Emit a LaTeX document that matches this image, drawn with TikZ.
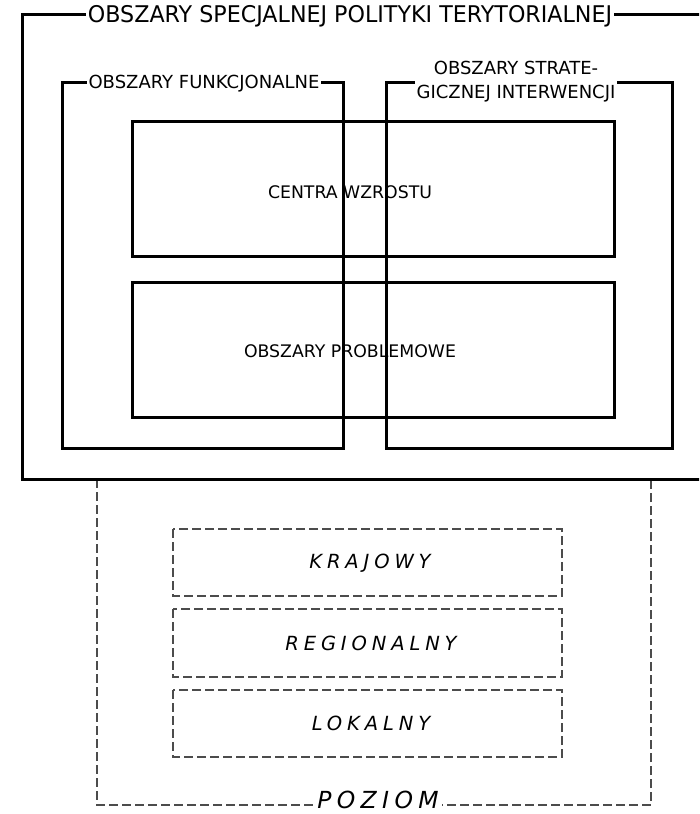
\documentclass[tikz,border=0pt]{standalone}
\usepackage{fontspec}
\setmainfont{DejaVu Sans}
\newfontfamily\itfont{DejaVu Sans Oblique}[LetterSpace=25]
\newfontfamily\pozfont{DejaVu Sans Oblique}[LetterSpace=23]
\begin{document}
\begin{tikzpicture}[x=1pt,y=-1pt,
  solidbox/.style={draw=black,line width=3pt},
  dbox/.style={draw=black!70,line width=1.8pt,dash pattern=on 9pt off 4pt},
  lbl/.style={fill=white,inner sep=1.5pt,align=center,font=\fontsize{18}{24}\selectfont},
  ctext/.style={font=\fontsize{17.3}{20}\selectfont},
  itlbl/.style={font=\itfont\fontsize{19.5}{22}\selectfont}]
\useasboundingbox (0,0) rectangle (699,814);
\clip (0,0) rectangle (699,814);
% dashed level frame
\draw[dbox] (97,479) -- (97,805) -- (651,805) -- (651,479);
\node[fill=white,inner xsep=3pt,inner ysep=0pt,font=\pozfont\fontsize{23.5}{25}\selectfont] (poz) at (378,800) {POZIOM};
\draw[dbox] (173,529) rectangle (562,596);
\draw[dbox] (173,609) rectangle (562,677);
\draw[dbox] (173,690) rectangle (562,757);
\node[itlbl] (kr) at (370,563) {KRAJOWY};
\node[itlbl] (re) at (371,643) {REGIONALNY};
\node[itlbl] (lo) at (371,723) {LOKALNY};
% outer solid frame
\draw[solidbox] (22,14) rectangle (720,479);
\node[lbl,font=\addfontfeatures{FakeStretch=0.965}\fontsize{23}{26}\selectfont,inner sep=2pt] (t) at (350,16) {OBSZARY SPECJALNEJ POLITYKI TERYTORIALNEJ};
% inner boxes
\draw[solidbox] (132,121) rectangle (614,256);
\draw[solidbox] (132,282) rectangle (614,417);
\node[ctext] (cw) at (350,192) {CENTRA WZROSTU};
\node[ctext] (op) at (350,351) {OBSZARY PROBLEMOWE};
% functional / strategic boxes
\draw[solidbox] (62,82) rectangle (343,448);
\draw[solidbox] (386,82) rectangle (672,448);
\node[lbl] (f) at (204,84) {OBSZARY FUNKCJONALNE};
\node[lbl,inner sep=2pt] (s) at (516,82) {OBSZARY STRATE-\\GICZNEJ INTERWENCJI};
\end{tikzpicture}
\end{document}
